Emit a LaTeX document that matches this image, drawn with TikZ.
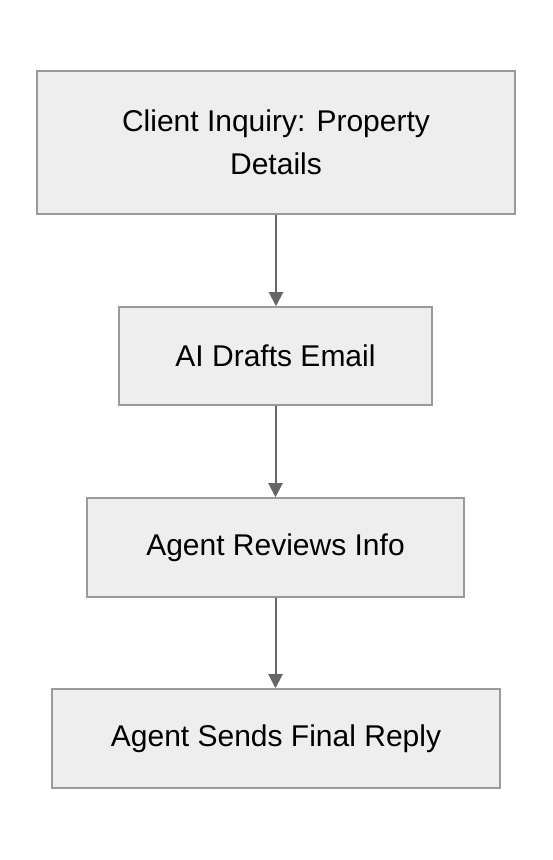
\documentclass[tikz,border=0pt]{standalone}
\usepackage{fontspec}
\setmainfont{Liberation Sans}
\usepackage{tikz}
\usetikzlibrary{arrows.meta}
\definecolor{boxfill}{HTML}{EEEEEE}
\definecolor{boxline}{HTML}{9A9A9A}
\definecolor{arrowline}{HTML}{666666}
\tikzset{
  stepbox/.style={draw=boxline,line width=1.5pt,fill=boxfill,inner sep=0pt,align=center,
    font=\fontsize{30}{43}\selectfont},
  flow/.style={draw=arrowline,line width=2pt,-{Triangle[length=14pt,width=14pt]}}
}
\begin{document}
\begin{tikzpicture}[x=1pt,y=1pt]
                            \useasboundingbox (0,0) rectangle (552,860);
                            
                            \node[stepbox,minimum width=478pt,minimum height=143pt] (inquiry) at (276,717.5) {Client Inquiry: Property\\Details};
                            \node[stepbox,minimum width=313pt,minimum height=98pt] (draft) at (275.5,504) {AI Drafts Email};
                            \node[stepbox,minimum width=377pt,minimum height=99pt] (review) at (275.5,312.5) {Agent Reviews Info};
                            \node[stepbox,minimum width=448pt,minimum height=99pt] (reply) at (276,121.5) {Agent Sends Final Reply};
                            
                            \draw[flow] (inquiry.south) -- (inquiry.south |- draft.north);
                            \draw[flow] (draft.south) -- (draft.south |- review.north);
                            \draw[flow] (review.south) -- (review.south |- reply.north);
                    \end{tikzpicture}
\end{document}
